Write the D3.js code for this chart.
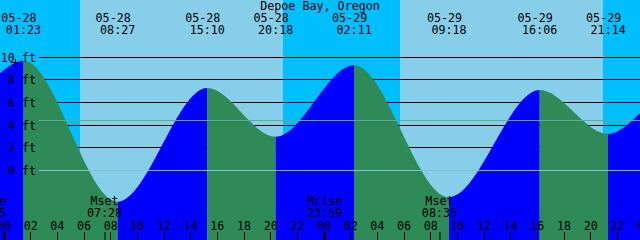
<!DOCTYPE html>
<html>
<head>
<meta charset="utf-8">
<script src="https://cdn.jsdelivr.net/npm/d3@7"></script>
<style>
  html, body { margin: 0; padding: 0; background: #fff; overflow: hidden; }
  svg { display: block; }
  text { font-family: "DejaVu Sans Mono", "Liberation Mono", monospace; font-size: 11.7px; fill: #000; }
</style>
</head>
<body>
<div id="chart"></div>
<script>
var title = 'Depoe Bay, Oregon';

// window shown
var windowStart = '2021-05-27 23:37:30';
var windowHours = 48;

// high / low tides
var tideTimes = [ '2021-05-28 01:23', '2021-05-28 08:27', '2021-05-28 15:10', '2021-05-28 20:18',
	'2021-05-29 02:11', '2021-05-29 09:18', '2021-05-29 16:06', '2021-05-29 21:14' ];
var tideFeet = [ 9.67, -2.76, 7.27, 2.97, 9.27, -2.37, 7.09, 3.21 ];
var edgeFeet = [ 8.56, 5.06 ]; // height at left and right edge

var sunrise = [ '2021-05-28 05:37', '2021-05-29 05:36' ];
var sunset = [ '2021-05-28 20:50', '2021-05-29 20:51' ];

var moonNames = [ 'Mrise', 'Mset', 'Mrise', 'Mset' ];
var moonTimes = [ '2021-05-27 22:45', '2021-05-28 07:28', '2021-05-28 23:59', '2021-05-29 08:35' ];

var feetTicks = [ 10, 8, 6, 4, 2, 0 ];
var mslFeet = 4.4;
var markTime = '2021-05-28 00:45', markFeet = 9.5;

var sizes = { width: 640, height: 240 };

var colors = {
	night: '#00bfff',
	day: '#87ceeb',
	flood: '#0000ff',
	ebb: '#2e8b57',
	msl: '#5fa89a',
	datum: '#7ec0d6'
};

var parse = function ( s ) {
	return d3.timeParse( '%Y-%m-%d %H:%M:%S' )( s ) || d3.timeParse( '%Y-%m-%d %H:%M' )( s );
};

var t0 = parse( windowStart );
var t1 = d3.timeHour.offset( t0, windowHours );

var scales = {};
scales.x = d3.scaleTime().domain( [ t0, t1 ] ).range( [ 0, sizes.width ] );
scales.y = d3.scaleLinear().domain( [ 0, 10 ] ).range( [ 170.4, 57.0 ] );

var crisp = function ( v ) { return Math.floor( v ) + 0.5; };

var svg = d3.select( '#chart' ).append( 'svg' )
	.attr( 'width', sizes.width )
	.attr( 'height', sizes.height );

// night background, then day bands
svg.append( 'rect' )
	.attr( 'width', sizes.width )
	.attr( 'height', sizes.height )
	.attr( 'fill', colors.night );

svg.selectAll( 'rect.day' )
	.data( sunrise )
	.enter()
	.append( 'rect' )
	.attr( 'class', 'day' )
	.attr( 'x', function ( d ) { return scales.x( parse( d ) ); } )
	.attr( 'width', function ( d, i ) { return scales.x( parse( sunset[i] ) ) - scales.x( parse( d ) ); } )
	.attr( 'y', 0 )
	.attr( 'height', sizes.height )
	.attr( 'fill', colors.day )
	.attr( 'shape-rendering', 'crispEdges' );

// black height lines (behind the tide)
svg.selectAll( 'line.grid' )
	.data( feetTicks.filter( function ( d ) { return d !== 0; } ) )
	.enter()
	.append( 'line' )
	.attr( 'class', 'grid' )
	.attr( 'x1', 39 )
	.attr( 'x2', sizes.width )
	.attr( 'y1', function ( d ) { return crisp( scales.y( d ) ); } )
	.attr( 'y2', function ( d ) { return crisp( scales.y( d ) ); } )
	.attr( 'stroke', '#000' )
	.attr( 'stroke-width', 1 );

// tide curve
var points = [ { t: t0, h: edgeFeet[0] } ];
tideTimes.forEach( function ( d, i ) {
	points.push( { t: parse( d ), h: tideFeet[i] } );
} );
points.push( { t: t1, h: edgeFeet[1] } );

var area = d3.area()
	.x( function ( d ) { return scales.x( d.t ); } )
	.y0( sizes.height )
	.y1( function ( d ) { return scales.y( d.h ); } )
	.curve( d3.curveMonotoneX );

var defs = svg.append( 'defs' );
var areaPath = area( points );

for ( var i = 0; i < points.length - 1; i++ ) {
	var xa = scales.x( points[i].t );
	var xb = scales.x( points[i + 1].t );
	defs.append( 'clipPath' ).attr( 'id', 'seg' + i )
		.append( 'rect' )
		.attr( 'x', xa )
		.attr( 'y', 0 )
		.attr( 'width', xb - xa )
		.attr( 'height', sizes.height );
	svg.append( 'path' )
		.attr( 'd', areaPath )
		.attr( 'clip-path', 'url(#seg' + i + ')' )
		.attr( 'fill', points[i + 1].h > points[i].h ? colors.flood : colors.ebb );
}

// mean sea level and datum lines on top
svg.append( 'line' )
	.attr( 'x1', 39 ).attr( 'x2', sizes.width )
	.attr( 'y1', crisp( scales.y( mslFeet ) ) ).attr( 'y2', crisp( scales.y( mslFeet ) ) )
	.attr( 'stroke', colors.msl );

svg.append( 'line' )
	.attr( 'x1', 39 ).attr( 'x2', sizes.width )
	.attr( 'y1', crisp( scales.y( 0 ) ) ).attr( 'y2', crisp( scales.y( 0 ) ) )
	.attr( 'stroke', colors.datum );

// height labels
svg.selectAll( 'text.ft' )
	.data( feetTicks )
	.enter()
	.append( 'text' )
	.attr( 'class', 'ft' )
	.attr( 'x', 36 )
	.attr( 'y', function ( d ) { return scales.y( d ) + 4.5; } )
	.attr( 'text-anchor', 'end' )
	.text( function ( d ) { return d + ' ft'; } );

// little cross mark
var mx = scales.x( parse( markTime ) ), my = scales.y( markFeet );
svg.append( 'path' )
	.attr( 'd', 'M' + ( mx - 4 ) + ',' + ( Math.floor( my ) + 0.5 ) + 'H' + ( mx + 4 ) +
		'M' + ( Math.floor( mx ) + 0.5 ) + ',' + ( my - 4 ) + 'V' + ( my + 4 ) )
	.attr( 'stroke', '#000' );

// title
svg.append( 'text' )
	.attr( 'x', sizes.width / 2 )
	.attr( 'y', 10 )
	.attr( 'text-anchor', 'middle' )
	.text( title );

// high/low labels
var fmtDate = d3.timeFormat( '%m-%d' );
var fmtTime = d3.timeFormat( '%H:%M' );

var tideLabels = svg.selectAll( 'g.tide' )
	.data( tideTimes )
	.enter()
	.append( 'g' )
	.attr( 'class', 'tide' )
	.attr( 'transform', function ( d ) { return 'translate(' + scales.x( parse( d ) ) + ',0)'; } );

tideLabels.append( 'text' )
	.attr( 'x', -4.5 )
	.attr( 'y', 22 )
	.attr( 'text-anchor', 'middle' )
	.text( function ( d ) { return fmtDate( parse( d ) ); } );

tideLabels.append( 'text' )
	.attr( 'x', 0 )
	.attr( 'y', 33.5 )
	.attr( 'text-anchor', 'middle' )
	.text( function ( d ) { return fmtTime( parse( d ) ); } );

// moon labels
var moonLabels = svg.selectAll( 'g.moon' )
	.data( moonTimes )
	.enter()
	.append( 'g' )
	.attr( 'class', 'moon' )
	.attr( 'transform', function ( d ) { return 'translate(' + scales.x( parse( d ) ) + ',0)'; } );

moonLabels.append( 'text' )
	.attr( 'y', 205 )
	.attr( 'text-anchor', 'middle' )
	.text( function ( d, i ) { return moonNames[i]; } );

moonLabels.append( 'text' )
	.attr( 'y', 216.5 )
	.attr( 'text-anchor', 'middle' )
	.text( function ( d ) { return fmtTime( parse( d ) ); } );

moonLabels.append( 'line' )
	.attr( 'x1', 0.5 ).attr( 'x2', 0.5 )
	.attr( 'y1', 232 ).attr( 'y2', sizes.height )
	.attr( 'stroke', '#000' );

// hour axis
var hours = d3.timeHour.every( 2 ).range( d3.timeHour.floor( t0 ), d3.timeHour.offset( t1, 1 ) );

svg.selectAll( 'text.hour' )
	.data( hours )
	.enter()
	.append( 'text' )
	.attr( 'class', 'hour' )
	.attr( 'x', function ( d ) { return scales.x( d ) - 1; } )
	.attr( 'y', 230 )
	.attr( 'text-anchor', 'middle' )
	.text( function ( d ) { return d3.timeFormat( '%H' )( d ); } );

svg.selectAll( 'line.hour' )
	.data( hours )
	.enter()
	.append( 'line' )
	.attr( 'class', 'hour' )
	.attr( 'x1', function ( d ) { return Math.floor( scales.x( d ) - 1 ) + 0.5; } )
	.attr( 'x2', function ( d ) { return Math.floor( scales.x( d ) - 1 ) + 0.5; } )
	.attr( 'y1', 232 )
	.attr( 'y2', sizes.height )
	.attr( 'stroke', '#000' )
	.attr( 'stroke-width', function ( d ) { return d.getHours() === 0 ? 2.5 : 1; } );
</script>
</body>
</html>
